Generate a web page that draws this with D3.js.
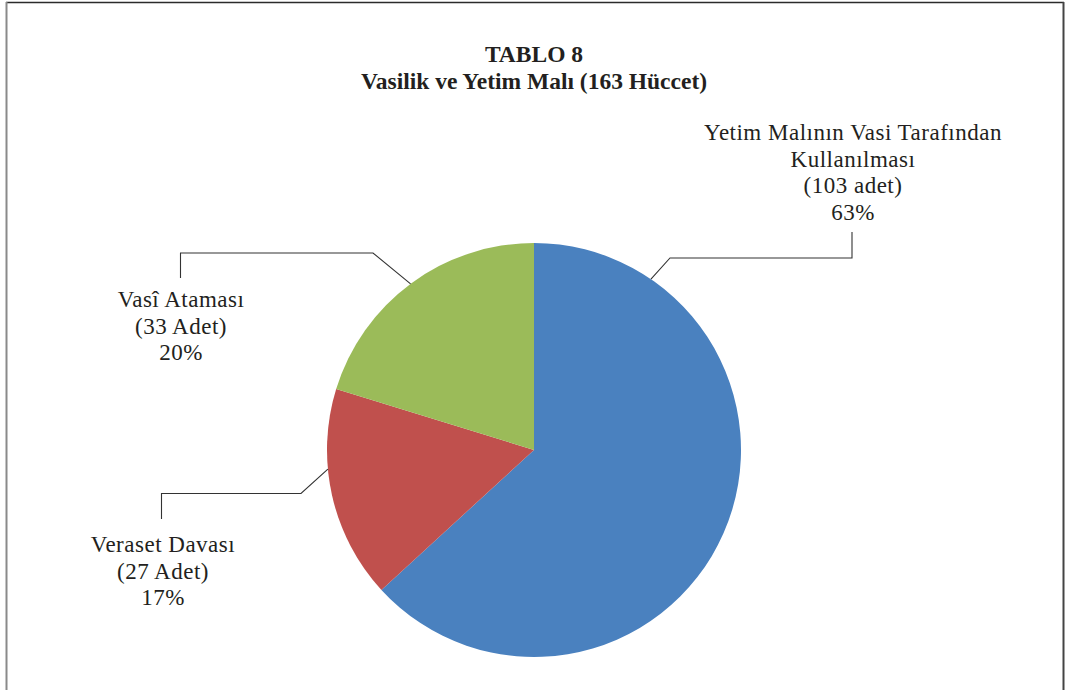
<!DOCTYPE html>
<html>
<head>
<meta charset="utf-8">
<script src="https://cdn.jsdelivr.net/npm/d3@7"></script>
<style>
  body { margin: 0; background: #fff; }
  svg text { font-family: "Liberation Serif", serif; fill: #231f20; }
</style>
</head>
<body>
<svg id="chart" width="1065" height="690"></svg>
<script>
// chart data
const categories = ['Yetim Malının Vasi Tarafından Kullanılması', 'Veraset Davası', 'Vasî Ataması'];
const values = [103, 27, 33];
const labelLines = [
  ['Yetim Malının Vasi Tarafından', 'Kullanılması', '(103 adet)', '63%'],
  ['Veraset Davası', '(27 Adet)', '17%'],
  ['Vasî Ataması', '(33 Adet)', '20%']
];
const colors = ['#4a81bf', '#c0504d', '#9bbb59'];
const titleLines = ['TABLO 8', 'Vasilik ve Yetim Malı (163 Hüccet)'];

const svg = d3.select('#chart');

// frame
svg.append('line').attr('x1', 6).attr('x2', 1064).attr('y1', 2.5).attr('y2', 2.5)
  .attr('stroke', '#2b2b2b').attr('stroke-width', 1.5);
svg.append('line').attr('x1', 6.5).attr('x2', 6.5).attr('y1', 2).attr('y2', 690)
  .attr('stroke', '#8a8a8a').attr('stroke-width', 2);
svg.append('line').attr('x1', 1063.5).attr('x2', 1063.5).attr('y1', 2).attr('y2', 690)
  .attr('stroke', '#444').attr('stroke-width', 2);

// title
svg.selectAll('.title')
  .data(titleLines)
  .enter()
  .append('text')
  .attr('class', 'title')
  .attr('x', 534)
  .attr('y', (d, i) => 62 + i * 26.5)
  .attr('text-anchor', 'middle')
  .attr('font-weight', 'bold')
  .attr('font-size', 23.5)
  .text(d => d);

const cx = 534, cy = 450, r = 207;
const g = svg.append('g').attr('transform', `translate(${cx},${cy})`);

const pie = d3.pie().sort(null).value(d => d);
const arc = d3.arc().innerRadius(0).outerRadius(r);
const arcs = pie(values);

g.selectAll('path.slice')
  .data(arcs)
  .enter()
  .append('path')
  .attr('class', 'slice')
  .attr('fill', (d, i) => colors[i])
  .attr('d', arc);

// leader lines: where they touch the pie (angle in degrees), elbow and end points
const leaderAngle = [34.4, 264.7, 323.4];
const leaderPts = [
  [[670, 258], [852, 258], [852, 232]],
  [[301, 493.5], [161.5, 493.5], [161.5, 519]],
  [[373, 253], [180.5, 253], [180.5, 278]]
];
const labelPos = [[853, 140], [163, 552], [181, 307]];

const line = d3.line();
arcs.forEach((a, i) => {
  const ang = leaderAngle[i] * Math.PI / 180;
  const start = [cx + r * Math.sin(ang), cy - r * Math.cos(ang)];
  svg.append('path')
    .attr('fill', 'none')
    .attr('stroke', '#333')
    .attr('stroke-width', 1.1)
    .attr('d', line([start, ...leaderPts[i]]));

  svg.append('g')
    .selectAll('text')
    .data(labelLines[i])
    .enter()
    .append('text')
    .attr('x', labelPos[i][0])
    .attr('y', (d, j) => labelPos[i][1] + j * 26.5)
    .attr('text-anchor', 'middle')
    .attr('font-size', 23)
    .attr('letter-spacing', 0.5)
    .text(d => d);
});
</script>
</body>
</html>
